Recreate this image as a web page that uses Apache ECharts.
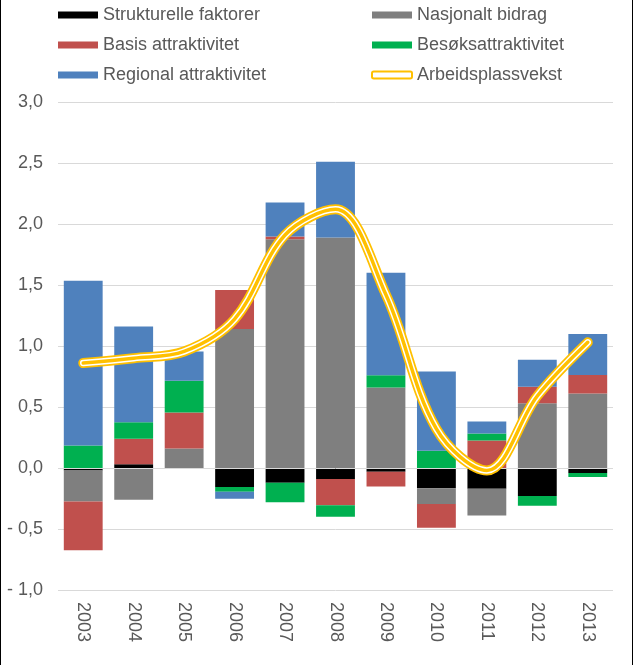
<!DOCTYPE html>
<html><head><meta charset="utf-8">
<script src="https://cdn.jsdelivr.net/npm/echarts@6/dist/echarts.min.js"></script>
<style>
html,body{margin:0;padding:0;background:#fff}
#wrap{position:relative;width:633px;height:665px}
#c{width:633px;height:665px}
.b{position:absolute;top:0;width:1px;height:665px;background:#000}
</style>
</head><body>
<div id="wrap"><div id="c"></div><div class="b" style="left:0"></div><div class="b" style="left:632px"></div></div>
<script>
const categories = ['2003','2004','2005','2006','2007','2008','2009','2010','2011','2012','2013'];
const strukturelle = [-0.02, 0.03, 0, -0.155, -0.12, -0.09, -0.03, -0.165, -0.17, -0.23, -0.04];
const nasjonalt = [-0.255, -0.26, 0.16, 1.14, 1.875, 1.89, 0.66, -0.13, -0.22, 0.53, 0.61];
const basis = [-0.40, 0.21, 0.295, 0.32, 0.022, -0.215, -0.122, -0.195, 0.225, 0.137, 0.153];
const besok = [0.185, 0.135, 0.26, -0.04, -0.16, -0.095, 0.1, 0.142, 0.057, -0.08, -0.034];
const regional = [1.35, 0.785, 0.24, -0.057, 0.28, 0.62, 0.84, 0.648, 0.1, 0.22, 0.336];
const arbeidsplassvekst = [0.86, 0.90, 0.955, 1.22, 1.91, 2.12, 1.42, 0.32, -0.02, 0.59, 1.03];
const seriesNames = ['Strukturelle faktorer','Nasjonalt bidrag','Basis attraktivitet','Besøksattraktivitet','Regional attraktivitet','Arbeidsplassvekst'];

const FONT = "'Liberation Sans', Arial, sans-serif";
const TXT = '#595959';
const chart = echarts.init(document.getElementById('c'), null, {renderer:'canvas'});

function bar(name, data, color, extra) {
  return Object.assign({
    name, type:'bar', stack:'a', data, barCategoryGap:'23%',
    itemStyle:{color}, emphasis:{disabled:true}
  }, extra || {});
}
function line(name, width, color, z) {
  return {
    name, type:'line', data:arbeidsplassvekst, smooth:0.35, symbol:'none', z,
    lineStyle:{color, width, cap:'round', join:'round'}, emphasis:{disabled:true}, silent:true
  };
}
const legendText = {fontSize:18, color:TXT, fontFamily:FONT, lineHeight:20};
chart.setOption({
  animation:false,
  grid:{left:58, right:20, top:102, bottom:75},
  legend:[
    {orient:'vertical', left:58, top:5, padding:0, itemWidth:40, itemHeight:7, itemGap:10, icon:'rect',
     data:[seriesNames[0], seriesNames[2], seriesNames[4]], textStyle:legendText, selectedMode:false},
    {orient:'vertical', left:371, top:5, padding:0, itemWidth:40, itemHeight:7, itemGap:10, icon:'rect',
     data:[seriesNames[1], seriesNames[3], {name:seriesNames[5], icon:'roundRect'}], textStyle:legendText, selectedMode:false}
  ],
  xAxis:{
    type:'category', data:categories,
    axisLine:{show:false, onZero:false}, axisTick:{show:false},
    axisLabel:{rotate:-90, margin:12, color:TXT, fontSize:18, fontFamily:FONT}
  },
  yAxis:{
    type:'value', min:-1, max:3, interval:0.5,
    axisLine:{show:false}, axisTick:{show:false},
    splitLine:{lineStyle:{color:'#D9D9D9', width:1}},
    axisLabel:{margin:15, color:TXT, fontSize:18, fontFamily:FONT,
      formatter:v => (v < 0 ? '- ' : '') + Math.abs(v).toFixed(1).replace('.', ',')}
  },
  series:[
    bar(seriesNames[0], strukturelle, '#000000', {
      markLine:{silent:true, symbol:'none', label:{show:false}, z:5,
        lineStyle:{color:'#D9D9D9', width:1, type:'solid'}, data:[{yAxis:0}]}
    }),
    bar(seriesNames[1], nasjonalt, '#7F7F7F'),
    bar(seriesNames[2], basis, '#C0504D'),
    bar(seriesNames[3], besok, '#00B050'),
    bar(seriesNames[4], regional, '#4F81BD'),
    bar(seriesNames[5], [], '#FFFFFF', {itemStyle:{color:'#FFFFFF', borderColor:'#FFC000', borderWidth:2}}),
    line('lineOuter', 10, '#FFC000', 10),
    line('lineMid', 6.5, '#FFFFFF', 11),
    line('lineInner', 3.5, '#FFC000', 12)
  ]
});
</script>
</body></html>
